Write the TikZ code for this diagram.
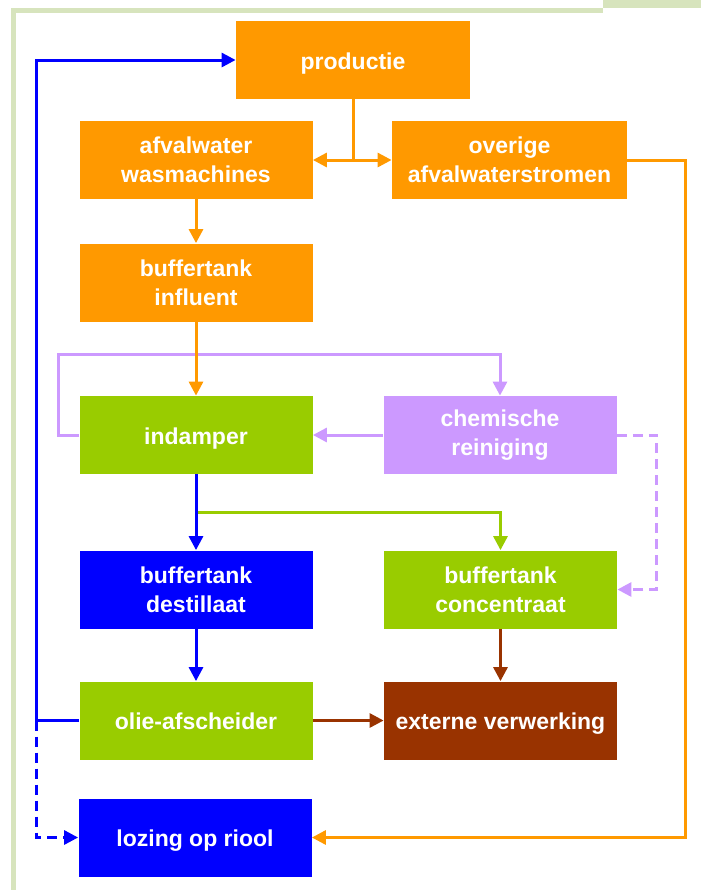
\documentclass[tikz,border=0pt]{standalone}
\usepackage{fontspec}
\setmainfont{Liberation Sans}
\usepackage{tikz}
\usetikzlibrary{arrows.meta}
\definecolor{oranje}{HTML}{FF9900}
\definecolor{groen}{HTML}{99CC00}
\definecolor{lila}{HTML}{CC99FF}
\definecolor{blauw}{HTML}{0000FF}
\definecolor{bruin}{HTML}{993300}
\definecolor{kader}{HTML}{D7E4BD}
\tikzset{>={Triangle[length=7pt,width=7pt]}}
\tikzset{
    blok/.style={rectangle, minimum width=116.5pt, minimum height=39pt, inner sep=0pt,
        text=white, align=center, font=\bfseries\fontsize{11.5}{14.5}\selectfont},
    enkel/.style={blok, text height=11pt, text depth=2pt},
    lijn/.style={line width=1.5pt},
    streep/.style={lijn, dash pattern=on 5pt off 3pt},
}

\begin{document}
\begin{tikzpicture}[x=0.5pt, y=-0.5pt]
		\useasboundingbox (0,0) rectangle (701,890);
		% kader
		\draw[kader, line width=2.5pt] (13.5,890) -- (13.5,10.5) -- (603,10.5);
		\fill[kader] (603,0) rectangle (701,8);
		% blokken
		\node[enkel, fill=oranje, minimum width=117pt] (prod) at (353,60) {productie};
		\node[blok, fill=oranje] (afval) at (196,160) {afvalwater\\wasmachines};
		\node[blok, fill=oranje, minimum width=117.5pt] (overig) at (509.5,160) {overige\\afvalwaterstromen};
		\node[blok, fill=oranje] (infl) at (196,282.5) {buffertank\\influent};
		\node[enkel, fill=groen] (indamp) at (196,435) {indamper};
		\node[blok, fill=lila] (chem) at (500,435) {chemische\\reiniging};
		\node[blok, fill=blauw] (destil) at (196,589.5) {buffertank\\destillaat};
		\node[blok, fill=groen] (conc) at (500.5,589.5) {buffertank\\concentraat};
		\node[enkel, fill=groen] (olie) at (196,720.5) {olie-afscheider};
		\node[enkel, fill=bruin] (extern) at (500.5,720.5) {externe verwerking};
		\node[enkel, fill=blauw] (lozing) at (195,837.5) {lozing op riool};
		% verbindingen
		\coordinate (prodsplit) at (prod.south |- afval.east);
		\draw[lijn, oranje] (prod.south) -- (prodsplit);
		\draw[lijn, oranje, ->] (prodsplit) -- (afval.east);
		\draw[lijn, oranje, ->] (prodsplit) -- (overig.west);
		\draw[lijn, oranje, ->] (overig.east) -- ++(58,0) |- (lozing.east);
		\draw[lijn, oranje, ->] (afval) -- (infl);
		\draw[lijn, lila, ->] (indamp.west) -- ++(-21,0) -- ++(0,-81) -| (chem.north);
		\draw[lijn, oranje, ->] (infl) -- (indamp);
		\draw[lijn, lila, ->] (chem) -- (indamp);
		\draw[streep, lila, ->] (chem.east) -- ++(40,0) |- (conc.east);
		\path (indamp.south) ++(0,38) coordinate (groensplit);
		\draw[lijn, groen, ->] (groensplit) -| (conc.north);
		\draw[lijn, blauw, ->] (indamp) -- (destil);
		\draw[lijn, blauw, ->] (destil) -- (olie);
		\draw[lijn, bruin, ->] (conc) -- (extern);
		\draw[lijn, bruin, ->] (olie) -- (extern);
		\draw[lijn, blauw] (olie.west) -- ++(-43,0) coordinate (blauwsplit);
		\draw[lijn, blauw, ->] (blauwsplit) |- (prod.west);
		\draw[streep, blauw, ->] (blauwsplit) |- (lozing.west);
	\end{tikzpicture}
\end{document}
